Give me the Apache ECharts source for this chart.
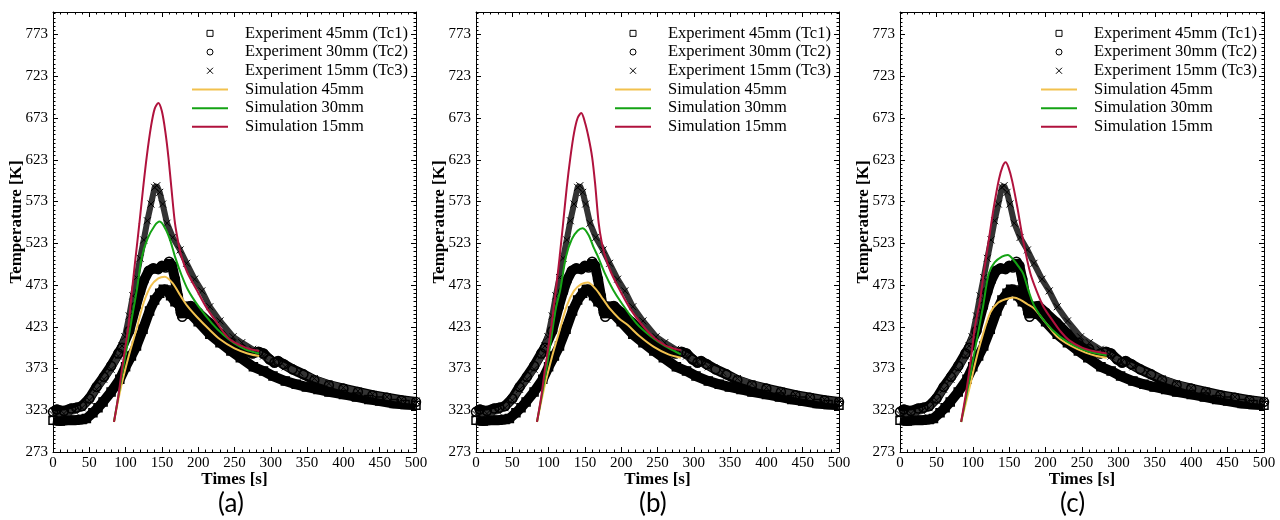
<!DOCTYPE html>
<html>
<head>
<meta charset="utf-8">
<script src="https://cdn.jsdelivr.net/npm/echarts@6/dist/echarts.min.js"></script>
<style>html,body{margin:0;padding:0;background:#fff;}#chart{width:1280px;height:520px;}</style>
</head>
<body>
<div id="chart"></div>
<script>
// ---- data ----
const seriesNames = ['Experiment 45mm (Tc1)', 'Experiment 30mm (Tc2)', 'Experiment 15mm (Tc3)',
                     'Simulation 45mm', 'Simulation 30mm', 'Simulation 15mm'];
const panelLabels = ['(a)', '(b)', '(c)'];

// experiment (same in every panel): [time s, temperature K]
const exp45 = [[0,311],[10,310],[20,311],[30,311],[40,312],[46,313],[55,320],[62,326],[69,333],[80,345],[92,360],[100,375],[108,388],[115,400],[124,420],[133,442],[140,455],[147,463],[152,468],[157,467],[162,460],[168,453],[175,448],[182,444],[190,438],[200,429],[216,414],[230,404],[245,394],[258,386],[276,375],[290,370],[303,364],[320,358],[335,354],[349,351],[365,348],[380,345],[400,342],[418,339],[435,336],[450,334],[470,331],[485,330],[500,329]];
const exp30 = [[0,321],[5,324],[15,322],[25,325],[32,326],[40,328],[50,337],[60,351],[70,363],[80,376],[90,391],[95,398],[105,418],[114,447],[120,465],[125,478],[132,490],[138,493],[145,492],[150,496],[155,494],[160,501],[164,496],[168,480],[172,460],[176,440],[178,435],[182,447],[190,448],[200,440],[215,428],[230,415],[245,404],[260,396],[275,391],[283,393],[290,391],[298,384],[305,380],[310,382],[318,378],[330,372],[345,366],[360,359],[380,353],[400,349],[420,345],[440,341],[460,338],[480,335],[500,333]];
const exp15 = [[0,318],[15,319],[30,322],[40,326],[50,335],[60,348],[70,360],[80,372],[90,388],[95,400],[99,411],[105,436],[110,460],[115,482],[120,505],[125,527],[130,550],[135,570],[140,590],[143,592],[147,584],[151,570],[157,547],[165,530],[175,515],[184,499],[195,480],[205,466],[216,447],[230,430],[248,411],[260,404],[275,396],[290,388],[305,381],[320,375],[340,368],[360,361],[380,355],[400,350],[420,346],[440,342],[460,339],[480,336],[500,334]];

// simulations per panel
const simA45 = [[84,309],[94,352],[105,390],[115,420],[125,452],[135,472],[145,481],[154,483],[165,475],[175,461],[185,448],[198,435],[215,420],[230,408],[250,397],[268,391],[284,388]];
const simA30 = [[84,309],[95,365],[101,395],[108,430],[116,470],[122,505],[130,528],[140,544],[147,549],[155,540],[162,525],[168,507],[177,485],[186,467],[200,448],[219,427],[235,413],[250,403],[265,396],[284,391]];
const simA15 = [[84,309],[90,340],[95,372],[99,395],[104,425],[109,468],[114,508],[119,547],[124,588],[129,626],[135,663],[140,684],[145,691],[150,681],[155,655],[159,626],[163,590],[168,547],[173,522],[177,507],[185,488],[198,467],[212,445],[228,425],[236,415],[245,407],[260,400],[272,396],[284,394]];

const simB45 = [[84,309],[94,350],[105,388],[115,418],[125,448],[135,466],[145,474],[154,476],[165,468],[175,456],[185,444],[197,433],[209,425],[225,412],[245,399],[265,390],[282,386]];
const simB30 = [[84,309],[95,362],[102,400],[110,445],[116,467],[124,507],[132,528],[140,538],[147,541],[155,533],[162,518],[168,507],[178,486],[189,467],[200,452],[221,427],[240,412],[260,400],[282,390]];
const simB15 = [[84,309],[90,340],[95,372],[99,395],[104,425],[110,467],[115,505],[120,547],[125,590],[130,626],[135,655],[140,673],[145,679],[150,668],[155,650],[160,626],[164,595],[169,547],[173,525],[178,507],[186,488],[198,467],[212,445],[228,426],[245,410],[260,401],[272,397],[282,395]];

const simC45 = [[84,309],[95,348],[104,382],[113,411],[124,440],[135,452],[145,456],[156,458],[166,455],[175,450],[184,445],[200,428],[216,411],[235,400],[255,392],[270,388],[284,386]];
const simC30 = [[84,309],[95,358],[105,405],[114,447],[122,487],[130,500],[140,507],[148,509],[156,503],[163,495],[169,487],[177,465],[185,447],[200,428],[220,411],[240,400],[260,393],[284,389]];
const simC15 = [[84,309],[90,340],[96,375],[103,423],[110,455],[115,487],[122,527],[129,567],[136,600],[141,615],[145,620],[149,614],[154,598],[161,567],[169,527],[179,487],[188,465],[197,447],[210,430],[220,418],[232,407],[250,398],[265,394],[284,391]];

const simPanels = [[simA45, simA30, simA15], [simB45, simB30, simB15], [simC45, simC30, simC15]];

// ---- layout / style ----
const gridBoxes = [
  {left: 53, top: 12, width: 363, height: 440},
  {left: 476, top: 12, width: 363, height: 440},
  {left: 900, top: 12, width: 364, height: 440}
];
const legendLeft = [187, 610, 1036];
const labelCenters = [233, 654, 1075];
const simColors = ['#F2C14E', '#14A314', '#B0123D'];
const serif = 'Liberation Serif';

const grid = [], xAxis = [], yAxis = [], series = [], legend = [], graphic = [];

function axisCommon(showLabel) {
  return {
    axisLine: {show: true, onZero: false, lineStyle: {color: '#000', width: 1}},
    axisTick: {show: true, inside: true, length: 5, lineStyle: {color: '#000', width: 1}},
    minorTick: {show: true, length: 2.5, lineStyle: {color: '#000', width: 1}},
    splitLine: {show: false},
    axisLabel: {show: showLabel, color: '#000', fontFamily: serif, fontSize: 15, margin: 5, showMaxLabel: false}
  };
}

gridBoxes.forEach((g, i) => {
  grid.push(Object.assign({containLabel: false}, g));
  const xb = axisCommon(true);
  xb.minorTick.splitNumber = 5;
  xb.axisLabel.showMaxLabel = true;
  xb.axisLabel.margin = 4;
  xAxis.push(Object.assign(xb, {
    type: 'value', gridIndex: i, position: 'bottom', min: 0, max: 500, interval: 50,
    name: 'Times [s]', nameLocation: 'middle', nameGap: 19, nameMoveOverlap: false,
    nameTextStyle: {fontFamily: serif, fontSize: 17, fontWeight: 'bold', color: '#000'}
  }));
  const xt = axisCommon(false);
  xt.minorTick.splitNumber = 5;
  xAxis.push(Object.assign(xt, {type: 'value', gridIndex: i, position: 'top', min: 0, max: 500, interval: 50}));

  const yl = axisCommon(true);
  yl.minorTick.splitNumber = 10;
  yAxis.push(Object.assign(yl, {
    type: 'value', gridIndex: i, position: 'left', min: 273, max: 800, interval: 50,
    name: 'Temperature [K]', nameLocation: 'middle', nameGap: 28, nameMoveOverlap: false,
    nameTextStyle: {fontFamily: serif, fontSize: 17, fontWeight: 'bold', color: '#000', padding: [0, 0, 0, 20]}
  }));
  const yr = axisCommon(false);
  yr.minorTick.splitNumber = 10;
  yAxis.push(Object.assign(yr, {type: 'value', gridIndex: i, position: 'right', min: 273, max: 800, interval: 50}));

  const xi = 2 * i, yi = 2 * i;
  series.push({
    name: seriesNames[0], type: 'line', xAxisIndex: xi, yAxisIndex: yi, data: exp45,
    symbol: 'rect', symbolSize: 8, showSymbol: true, z: 2,
    lineStyle: {color: '#000', width: 10},
    itemStyle: {color: 'rgba(0,0,0,0)', borderColor: '#000', borderWidth: 1.5}
  });
  series.push({
    name: seriesNames[1], type: 'line', xAxisIndex: xi, yAxisIndex: yi, data: exp30,
    symbol: 'circle', symbolSize: 9, showSymbol: true, z: 2,
    lineStyle: {color: '#000', width: 10},
    itemStyle: {color: 'rgba(0,0,0,0)', borderColor: '#000', borderWidth: 1.5}
  });
  series.push({
    name: seriesNames[2], type: 'line', xAxisIndex: xi, yAxisIndex: yi, data: exp15,
    symbol: 'path://M0,0L10,10M10,0L0,10', symbolSize: 7, showSymbol: true, z: 2,
    lineStyle: {color: '#333', width: 6},
    itemStyle: {color: 'rgba(0,0,0,0)', borderColor: '#000', borderWidth: 1}
  });
  simPanels[i].forEach((d, k) => {
    series.push({
      name: seriesNames[3 + k], type: 'line', xAxisIndex: xi, yAxisIndex: yi, data: d,
      symbol: 'none', showSymbol: false, smooth: 0.3, z: 3,
      lineStyle: {color: simColors[k], width: 2},
      itemStyle: {color: simColors[k]}
    });
  });

  const lineIcon = 'path://M0,0H36V2H0Z';
  legend.push({
    orient: 'vertical', left: legendLeft[i], top: 19, itemWidth: 36, itemHeight: 6, itemGap: 0,
    textStyle: {fontFamily: serif, fontSize: 16.5, color: '#000', lineHeight: 18.7, padding: [0, 0, 0, 12]},
    selectedMode: false,
    data: [
      {name: seriesNames[0], icon: 'path://M0,0H10V10H0Z', itemStyle: {color: 'rgba(0,0,0,0)', borderColor: '#000', borderWidth: 1}},
      {name: seriesNames[1], icon: 'circle', itemStyle: {color: 'rgba(0,0,0,0)', borderColor: '#000', borderWidth: 1}},
      {name: seriesNames[2], icon: 'path://M0,0L10,10M10,0L0,10', itemStyle: {color: 'rgba(0,0,0,0)', borderColor: '#000', borderWidth: 1}},
      {name: seriesNames[3], icon: lineIcon, itemStyle: {color: simColors[0], borderWidth: 0}},
      {name: seriesNames[4], icon: lineIcon, itemStyle: {color: simColors[1], borderWidth: 0}},
      {name: seriesNames[5], icon: lineIcon, itemStyle: {color: simColors[2], borderWidth: 0}}
    ]
  });

  graphic.push({
    type: 'text', left: labelCenters[i] - 15, top: 491,
    style: {text: panelLabels[i], fontFamily: 'Lato', fontSize: 26, fill: '#000'}
  });
});

const chart = echarts.init(document.getElementById('chart'), null, {renderer: 'canvas'});
chart.setOption({animation: false, backgroundColor: '#fff', grid, xAxis, yAxis, series, legend, graphic});
</script>
</body>
</html>
